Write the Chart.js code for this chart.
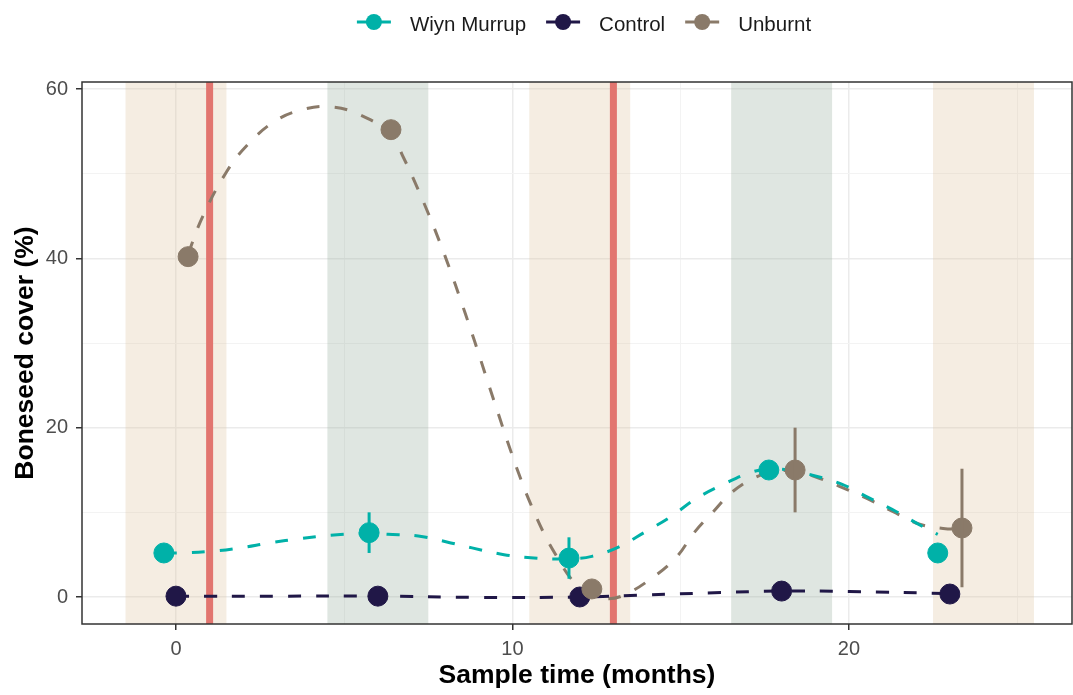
<!DOCTYPE html>
<html>
<head>
<meta charset="utf-8">
<script src="https://cdn.jsdelivr.net/npm/chart.js@4.4.1/dist/chart.umd.min.js"></script>
<style>
  html, body { margin: 0; padding: 0; background: #fff; }
</style>
</head>
<body>
<canvas id="boneseedChart" width="1073" height="695"></canvas>
<script>
// series names + colours (legend order)
const seriesNames = ["Wiyn Murrup", "Control", "Unburnt"];
const seriesColors = ["#00b1a8", "#201747", "#8a7a69"];

// sample means, x dodged around each sampling month
const wiynX = [-0.36, 5.74, 11.68, 17.62, 22.64];
const wiynY = [5.2, 7.6, 4.6, 15.0, 5.2];
const wiynErr = [0, 2.4, 2.45, 0, 0];

const controlX = [0, 6, 12, 18, 23];
const controlY = [0.1, 0.1, 0.0, 0.7, 0.35];
const controlErr = [0, 0, 0, 0, 0];

const unburntX = [0.36, 6.39, 12.36, 18.4, 23.36];
const unburntY = [40.2, 55.2, 0.95, 15.0, 8.15];
const unburntErr = [0, 0, 0, 5.0, 7.0];

// smoothed trend lines
const wiynFitX = [-0.36, 0.1, 1.05, 1.9, 2.8, 3.7, 4.6, 5.74, 6.3, 7.2, 8.05, 8.8, 9.75, 10.64, 11.2, 11.68, 12.36, 13.15, 13.95, 14.75, 15.45, 16.37, 17.15, 17.62, 18.2, 19.0, 19.8, 20.6, 21.4, 22.2, 22.64];
const wiynFitY = [5.2, 5.2, 5.4, 5.8, 6.4, 6.9, 7.3, 7.5, 7.4, 7.2, 6.5, 5.8, 5.0, 4.6, 4.5, 4.5, 4.8, 5.9, 7.7, 9.6, 11.6, 13.5, 14.8, 15.1, 15.0, 14.3, 13.3, 11.7, 10.1, 8.3, 7.4];

const controlFitX = [0, 3, 6, 9, 12, 14, 16, 18, 20, 23];
const controlFitY = [0.1, 0.1, 0.1, -0.05, 0.0, 0.25, 0.5, 0.7, 0.65, 0.4];

const unburntFitX = [0.36, 0.8, 1.5, 2.1, 2.9, 3.7, 4.6, 5.5, 6.4, 6.75, 7.1, 7.5, 7.85, 8.15, 8.45, 8.75, 9.0, 9.3, 9.6, 9.85, 10.25, 10.55, 10.95, 11.3, 11.8, 12.3, 12.8, 13.3, 14.1, 14.85, 15.4, 15.95, 16.5, 17.2, 17.8, 18.4, 19.0, 19.7, 20.5, 21.3, 22.1, 22.8, 23.36];
const unburntFitY = [40.5, 45.0, 50.2, 53.3, 56.1, 57.5, 57.9, 56.9, 54.6, 52.0, 49.0, 45.3, 41.8, 38.6, 35.2, 31.7, 28.7, 25.0, 21.4, 18.4, 13.9, 10.9, 7.4, 4.9, 1.9, 0.4, -0.2, 0.2, 2.1, 4.6, 7.6, 10.0, 12.3, 14.1, 14.8, 14.9, 14.2, 13.1, 11.7, 10.1, 8.6, 8.1, 8.0];

// shaded periods and burn events (months)
const bandStart = [-1.5, 4.5, 10.5, 16.5, 22.5];
const bandEnd = [1.5, 7.5, 13.5, 19.5, 25.5];
const bandGroup = [0, 1, 0, 1, 0];
const burnTimes = [1, 13];

// axis ticks
const xTickLabels = [0, 10, 20];
const yTickLabels = [0, 20, 40, 60];

const zip = (xs, ys) => xs.map((x, i) => ({ x: x, y: ys[i] }));

const bandColors = ["rgba(222,196,160,0.3)", "rgba(150,172,155,0.3)"];
const fontFamily = '"Liberation Sans", Arial, sans-serif';

const backdropPlugin = {
  id: "backdrop",
  beforeDatasetsDraw(chart) {
    const { ctx, chartArea: a, scales: { x } } = chart;
    ctx.save();
    ctx.beginPath();
    ctx.rect(a.left, a.top, a.right - a.left, a.bottom - a.top);
    ctx.clip();
    bandStart.forEach((s, i) => {
      const x0 = x.getPixelForValue(s);
      const x1 = x.getPixelForValue(bandEnd[i]);
      ctx.fillStyle = bandColors[bandGroup[i]];
      ctx.fillRect(x0, a.top, x1 - x0, a.bottom - a.top);
    });
    ctx.strokeStyle = "#e2756f";
    ctx.lineWidth = 7;
    burnTimes.forEach(t => {
      const px = x.getPixelForValue(t);
      ctx.beginPath();
      ctx.moveTo(px, a.top);
      ctx.lineTo(px, a.bottom);
      ctx.stroke();
    });
    ctx.restore();
  }
};

const errorBarPlugin = {
  id: "errorBars",
  afterDatasetsDraw(chart) {
    const { ctx, chartArea: a, scales: { x, y } } = chart;
    ctx.save();
    ctx.beginPath();
    ctx.rect(a.left, a.top, a.right - a.left, a.bottom - a.top);
    ctx.clip();
    chart.data.datasets.forEach(ds => {
      if (!ds.errors) return;
      ctx.strokeStyle = ds.backgroundColor;
      ctx.lineWidth = 3;
      ds.data.forEach((p, i) => {
        const e = ds.errors[i];
        if (!e) return;
        const px = x.getPixelForValue(p.x);
        ctx.beginPath();
        ctx.moveTo(px, y.getPixelForValue(p.y - e));
        ctx.lineTo(px, y.getPixelForValue(p.y + e));
        ctx.stroke();
      });
    });
    ctx.restore();
    // panel border
    ctx.save();
    ctx.strokeStyle = "#333333";
    ctx.lineWidth = 1.5;
    ctx.strokeRect(a.left, a.top, a.right - a.left, a.bottom - a.top);
    ctx.restore();
  }
};

const legendPlugin = {
  id: "topLegend",
  afterDraw(chart) {
    const ctx = chart.ctx;
    ctx.save();
    ctx.font = "20.5px " + fontFamily;
    const lineLen = 34, gapText = 19, gapItem = 20, y = 25;
    const widths = seriesNames.map(n => ctx.measureText(n).width);
    let total = gapItem * (seriesNames.length - 1);
    widths.forEach(w => { total += lineLen + gapText + w; });
    let x = 584 - total / 2;
    seriesNames.forEach((name, i) => {
      ctx.strokeStyle = seriesColors[i];
      ctx.fillStyle = seriesColors[i];
      ctx.lineWidth = 3;
      ctx.beginPath();
      ctx.moveTo(x, y - 3);
      ctx.lineTo(x + lineLen, y - 3);
      ctx.stroke();
      ctx.beginPath();
      ctx.arc(x + lineLen / 2, y - 3, 8, 0, Math.PI * 2);
      ctx.fill();
      x += lineLen + gapText;
      ctx.fillStyle = "#1a1a1a";
      ctx.textBaseline = "middle";
      ctx.fillText(name, x, y);
      x += widths[i] + gapItem;
    });
    ctx.restore();
  }
};

const fitLine = (label, xs, ys, color) => ({
  label: label + " trend",
  data: zip(xs, ys),
  showLine: true,
  borderColor: color,
  borderWidth: 3,
  borderDash: [13, 15],
  pointRadius: 0,
  tension: 0.4,
  order: 10
});

const meanPoints = (label, xs, ys, errs, color, order) => ({
  label: label,
  data: zip(xs, ys),
  errors: errs,
  backgroundColor: color,
  borderColor: color,
  pointRadius: 10,
  pointBorderWidth: 1,
  order: order
});

const isMinor = (v, step) => Math.abs(v % step) > 1e-6;

new Chart(document.getElementById("boneseedChart").getContext("2d"), {
  type: "scatter",
  data: {
    datasets: [
      fitLine(seriesNames[0], wiynFitX, wiynFitY, seriesColors[0]),
      fitLine(seriesNames[1], controlFitX, controlFitY, seriesColors[1]),
      fitLine(seriesNames[2], unburntFitX, unburntFitY, seriesColors[2]),
      meanPoints(seriesNames[0], wiynX, wiynY, wiynErr, seriesColors[0], 3),
      meanPoints(seriesNames[1], controlX, controlY, controlErr, seriesColors[1], 2),
      meanPoints(seriesNames[2], unburntX, unburntY, unburntErr, seriesColors[2], 1)
    ]
  },
  options: {
    responsive: false,
    animation: false,
    events: [],
    layout: { autoPadding: false, padding: { top: 82, right: 1, left: 0, bottom: 0 } },
    plugins: { legend: { display: false }, tooltip: { enabled: false } },
    scales: {
      x: {
        type: "linear",
        min: -2.793,
        max: 26.63,
        afterFit: s => { s.height = 71; },
        border: { display: false },
        grid: {
          color: c => isMinor(c.tick.value, 10) ? "#f3f3f3" : "#ebebeb",
          lineWidth: c => isMinor(c.tick.value, 10) ? 1 : 1.5,
          tickColor: c => isMinor(c.tick.value, 10) ? "rgba(0,0,0,0)" : "#333333",
          tickLength: 6,
          tickWidth: 1.5
        },
        ticks: {
          stepSize: 5,
          includeBounds: false,
          autoSkip: false,
          maxRotation: 0,
          padding: 7,
          color: "#4d4d4d",
          font: { family: fontFamily, size: 20 },
          callback: v => xTickLabels.includes(v) ? String(v) : ""
        },
        title: {
          display: true,
          text: "Sample time (months)",
          color: "#000",
          font: { family: fontFamily, size: 26.5, weight: "bold", lineHeight: 1.2 },
          padding: { top: 0, bottom: 3 }
        }
      },
      y: {
        min: -3.19,
        max: 60.83,
        afterFit: s => { s.width = 82; },
        border: { display: false },
        grid: {
          color: c => isMinor(c.tick.value, 20) ? "#f3f3f3" : "#ebebeb",
          lineWidth: c => isMinor(c.tick.value, 20) ? 1 : 1.5,
          tickColor: c => isMinor(c.tick.value, 20) ? "rgba(0,0,0,0)" : "#333333",
          tickLength: 6,
          tickWidth: 1.5
        },
        ticks: {
          stepSize: 10,
          includeBounds: false,
          autoSkip: false,
          padding: 8,
          color: "#4d4d4d",
          font: { family: fontFamily, size: 20 },
          callback: v => yTickLabels.includes(v) ? String(v) : ""
        },
        title: {
          display: true,
          text: "Boneseed cover (%)",
          color: "#000",
          font: { family: fontFamily, size: 26.5, weight: "bold", lineHeight: 1.2 },
          padding: { top: 10, bottom: 0 }
        }
      }
    }
  },
  plugins: [backdropPlugin, errorBarPlugin, legendPlugin]
});
</script>
</body>
</html>
